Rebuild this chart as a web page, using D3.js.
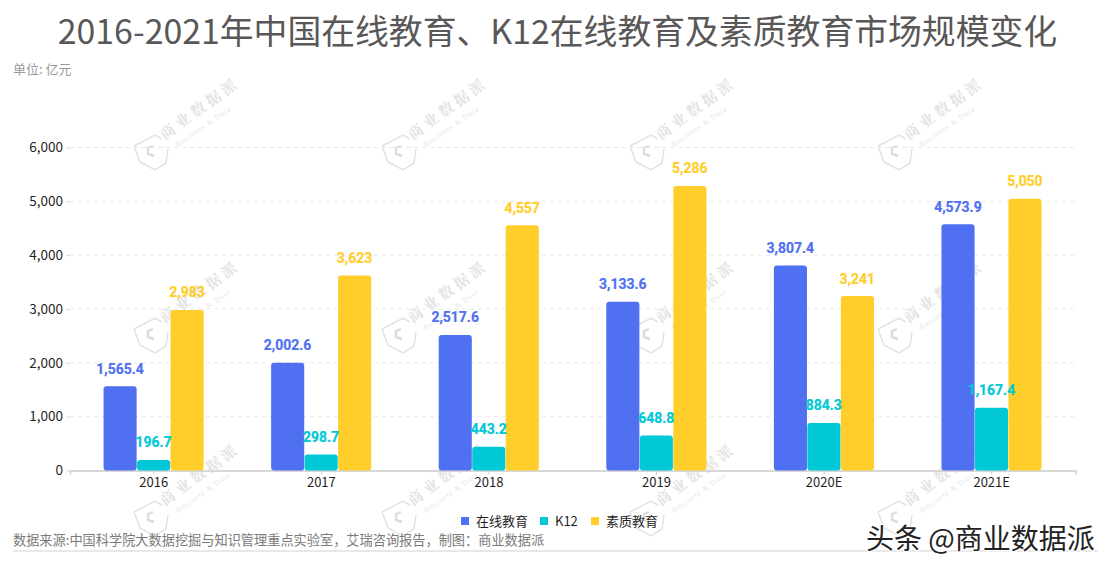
<!DOCTYPE html>
<html><head><meta charset="utf-8">
<script src="https://cdn.jsdelivr.net/npm/d3@7"></script>
<style>html,body{margin:0;padding:0;background:#fff}svg{display:block}
text{font-family:"Noto Sans CJK SC","Noto Sans",sans-serif}</style></head>
<body><svg id="c" width="1115" height="571"></svg>
<script>
const categories=["2016","2017","2018","2019","2020E","2021E"];
const seriesNames=["在线教育","K12","素质教育"];
const online=[1565.4,2002.6,2517.6,3133.6,3807.4,4573.9];
const k12=[196.7,298.7,443.2,648.8,884.3,1167.4];
const quality=[2983,3623,4557,5286,3241,5050];
const onlineLabels=["1,565.4","2,002.6","2,517.6","3,133.6","3,807.4","4,573.9"];
const k12Labels=["196.7","298.7","443.2","648.8","884.3","1,167.4"];
const qualityLabels=["2,983","3,623","4,557","5,286","3,241","5,050"];
const colors=["#4f70f0","#00c8d7","#ffce2b"];
const yTicks=[0,1000,2000,3000,4000,5000,6000];
const titleText="2016-2021年中国在线教育、K12在线教育及素质教育市场规模变化";
const unitText="单位: 亿元";
const sourceText="数据来源:中国科学院大数据挖掘与知识管理重点实验室，艾瑞咨询报告，制图：商业数据派";
const stampText="头条 @商业数据派";
const wmColumns=[0,1,2,3];
const wmRows=[0,1,2];

const svg=d3.select("#c");
const x=d3.scaleBand().domain(categories).range([70,1075.5]);
const sub=d3.scaleBand().domain(seriesNames).range([0,100.5]);
const y=d3.scaleLinear().domain([0,6000]).range([470.5,147.5]);
const off=(x.bandwidth()-sub.range()[1])/2;

// watermark
const wm=svg.append("g").attr("class","watermark");
wmColumns.forEach(c=>wmRows.forEach(r=>{
  const g=wm.append("g").attr("transform",`translate(${150+c*248},${151+r*183})`);
  g.append("path").attr("d","M-16,-5 L5,-16 L12,-12 M18,-2 L16,12 L5,19 L-10,11 L-13,3 M-16,-5 L-13,3")
   .attr("fill","none").attr("stroke","#e2e2e2").attr("stroke-width",1.5);
  g.append("path").attr("d","M3,-5 L-2,-3 L-2,3 L4,5")
   .attr("fill","none").attr("stroke","#dcdcdc").attr("stroke-width",2.4);
  g.append("text").attr("transform","translate(49,-43.5) rotate(-36)").attr("font-size",15).attr("letter-spacing",3.8)
   .attr("text-anchor","middle").attr("dominant-baseline","central")
   .attr("fill","#e3e3e3").attr("style","font-family:'Noto Serif CJK SC','Noto Sans CJK SC'").attr("font-weight",700).text("商业数据派");
  g.append("text").attr("transform","translate(53,-24.5) rotate(-35)").attr("font-size",7.5).attr("letter-spacing",1)
   .attr("text-anchor","middle").attr("dominant-baseline","central")
   .attr("fill","#e6e6e6").attr("style","font-family:'Liberation Serif'").text("Business & Data");
}));

// grid
const grid=svg.append("g");
yTicks.filter(d=>d>0).forEach(d=>{
  grid.append("line").attr("x1",70).attr("x2",1076).attr("y1",y(d)).attr("y2",y(d))
    .attr("stroke","#e8e8e8").attr("stroke-dasharray","4 4");
});

// y axis
const ya=svg.append("g").attr("transform","translate(70,0)")
  .call(d3.axisLeft(y).tickValues(yTicks).tickFormat(d3.format(",")).tickSize(4).tickPadding(3));
ya.select(".domain").remove();
ya.selectAll("line").attr("stroke","#dddddd");
ya.selectAll("text").attr("font-size",13.5).attr("fill","#1f1f1f");

// x axis
const xa=svg.append("g").attr("transform","translate(0,470.5)")
  .call(d3.axisBottom(x).tickSize(4).tickPadding(3));
xa.select(".domain").attr("stroke","#cccccc").attr("stroke-width",1.4);
xa.selectAll("line").attr("stroke","#cccccc");
xa.selectAll("text").attr("font-size",13).attr("fill","#1f1f1f");

// bars
function roundTop(bx,by,w,h,r){
  return `M${bx},${by+h-r}Q${bx},${by+h} ${bx+r},${by+h}H${bx+w-r}Q${bx+w},${by+h} ${bx+w},${by+h-r}V${by+r}Q${bx+w},${by} ${bx+w-r},${by}H${bx+r}Q${bx},${by} ${bx},${by+r}Z`;
}
const allSeries=[[online,onlineLabels],[k12,k12Labels],[quality,qualityLabels]];
allSeries.forEach(([vals],si)=>{
  const name=seriesNames[si];
  svg.append("g").selectAll("path").data(categories).join("path")
    .attr("d",(c,i)=>roundTop(x(c)+off+sub(name),y(vals[i]),sub.bandwidth()-0.4,y(0)-y(vals[i]),3))
    .attr("fill",colors[si]);
});
allSeries.forEach(([vals,labs],si)=>{
  const name=seriesNames[si];
  svg.append("g").selectAll("text").data(categories).join("text")
    .attr("transform",(c,i)=>`translate(${x(c)+off+sub(name)+sub.bandwidth()/2-0.3},${y(vals[i])-12.5}) scale(0.9,1)`)
    .attr("text-anchor","middle").attr("font-size",15.5).attr("font-weight",700)
    .attr("fill",colors[si]).attr("stroke",colors[si]).attr("stroke-width",0.25).attr("style","font-family:'Roboto'")
    .text((c,i)=>labs[i]);
});

// title etc
svg.append("text").attr("x",557.5).attr("y",43.5).attr("text-anchor","middle").attr("font-size",33.85).attr("fill","#595757").text(titleText);
svg.append("text").attr("x",13).attr("y",74).attr("font-size",13).attr("fill","#999999").text(unitText);
svg.append("text").attr("x",13).attr("y",545).attr("font-size",13.2).attr("fill","#7a7a7a").text(sourceText);
svg.append("rect").attr("x",13).attr("y",550).attr("width",1085).attr("height",2).attr("fill","#e8e8e8");

// legend
const legendX=[461,540,591];
seriesNames.forEach((n,i)=>{
  svg.append("rect").attr("x",legendX[i]).attr("y",517).attr("width",8).attr("height",8).attr("fill",colors[i]);
  svg.append("text").attr("x",legendX[i]+15).attr("y",526).attr("font-size",13).attr("fill","#1f1f1f").text(n);
});

// stamp
svg.append("text").attr("x",866).attr("y",549).attr("font-size",28).attr("fill","#222222").attr("stroke","#fff").attr("stroke-width",2.5).attr("paint-order","stroke").text(stampText);
</script></body></html>
